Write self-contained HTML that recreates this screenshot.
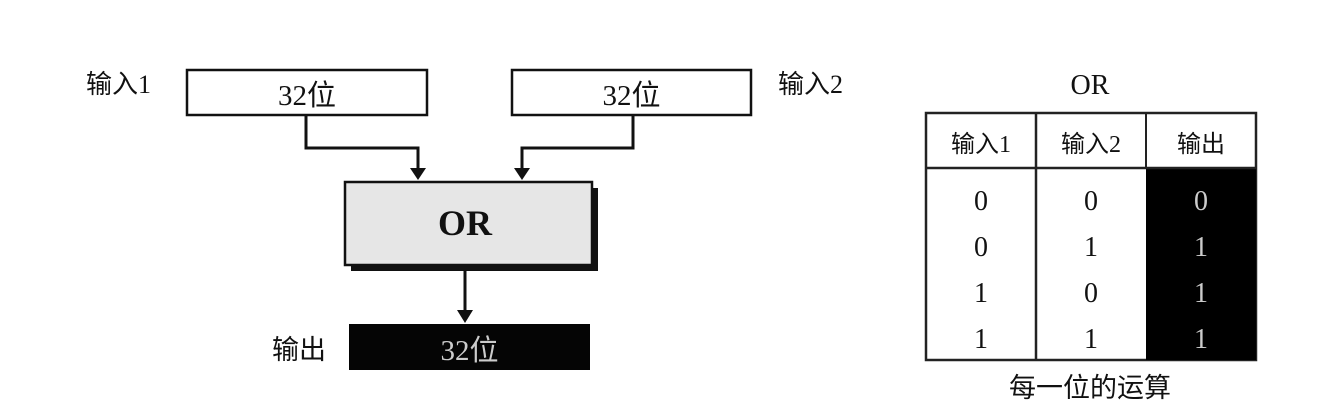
<!DOCTYPE html>
<html><head><meta charset="utf-8"><style>
body{margin:0;width:1344px;height:420px;background:#fff;overflow:hidden;position:relative;font-family:"Liberation Serif","Noto Serif CJK SC",serif;color:#111}
.a{position:absolute}
.cn{font-family:"Liberation Serif","Noto Sans CJK SC",sans-serif}
</style></head><body>
<svg class="a" style="left:0;top:0" width="1344" height="420">
<rect x="187" y="70" width="240" height="45" fill="#fff" stroke="#111" stroke-width="2.5"/>
<rect x="512" y="70" width="239" height="45" fill="#fff" stroke="#111" stroke-width="2.5"/>
<polyline points="306,115 306,148 418,148 418,172" fill="none" stroke="#111" stroke-width="3"/>
<polygon points="410,168 426,168 418,180" fill="#111"/>
<polyline points="633,115 633,148 522,148 522,172" fill="none" stroke="#111" stroke-width="3"/>
<polygon points="514,168 530,168 522,180" fill="#111"/>
<rect x="351" y="188" width="247" height="83" fill="#111"/>
<rect x="345" y="182" width="247" height="83" fill="#e6e6e6" stroke="#111" stroke-width="2.5"/>
<line x1="465" y1="271" x2="465" y2="314" stroke="#111" stroke-width="3"/>
<polygon points="457,310 473,310 465,323" fill="#111"/>
<rect x="349" y="324" width="241" height="46" fill="#050505"/>
<rect x="926" y="113" width="330" height="247" fill="#fff" stroke="#222" stroke-width="2.5"/>
<rect x="1146" y="168" width="110" height="192" fill="#000"/>
<line x1="926" y1="168" x2="1256" y2="168" stroke="#222" stroke-width="2.5"/>
<line x1="1036" y1="113" x2="1036" y2="360" stroke="#222" stroke-width="2.5"/>
<line x1="1146" y1="113" x2="1146" y2="168" stroke="#222" stroke-width="2"/>
</svg>
<div class="a cn" style="left:86px;top:64px;font-size:26px">输入1</div>
<div class="a cn" style="left:778px;top:64px;font-size:26px">输入2</div>
<div class="a cn" style="left:272px;top:328px;font-size:27px">输出</div>
<div class="a cn" style="left:187px;top:72px;width:240px;text-align:center;font-size:29px">32位</div>
<div class="a cn" style="left:512px;top:72px;width:239px;text-align:center;font-size:29px">32位</div>
<div class="a" style="left:345px;top:202px;width:240px;text-align:center;font-size:36px;font-weight:bold">OR</div>
<div class="a cn" style="left:349px;top:327px;width:241px;text-align:center;font-size:29px;color:#ccc">32位</div>
<div class="a" style="left:1040px;top:70px;width:100px;text-align:center;font-size:28px">OR</div>
<div class="a cn" style="left:926px;top:124px;width:110px;text-align:center;font-size:24px">输入1</div>
<div class="a cn" style="left:1036px;top:124px;width:110px;text-align:center;font-size:24px">输入2</div>
<div class="a cn" style="left:1146px;top:124px;width:110px;text-align:center;font-size:24px">输出</div>
<div class="a" style="left:926px;top:179px;width:110px;text-align:center;font-size:28px;line-height:46px">0<br>0<br>1<br>1</div>
<div class="a" style="left:1036px;top:179px;width:110px;text-align:center;font-size:28px;line-height:46px">0<br>1<br>0<br>1</div>
<div class="a" style="left:1146px;top:179px;width:110px;text-align:center;font-size:28px;line-height:46px;color:#ccc">0<br>1<br>1<br>1</div>
<div class="a cn" style="left:940px;top:366px;width:300px;text-align:center;font-size:27px">每一位的运算</div>
</body></html>
